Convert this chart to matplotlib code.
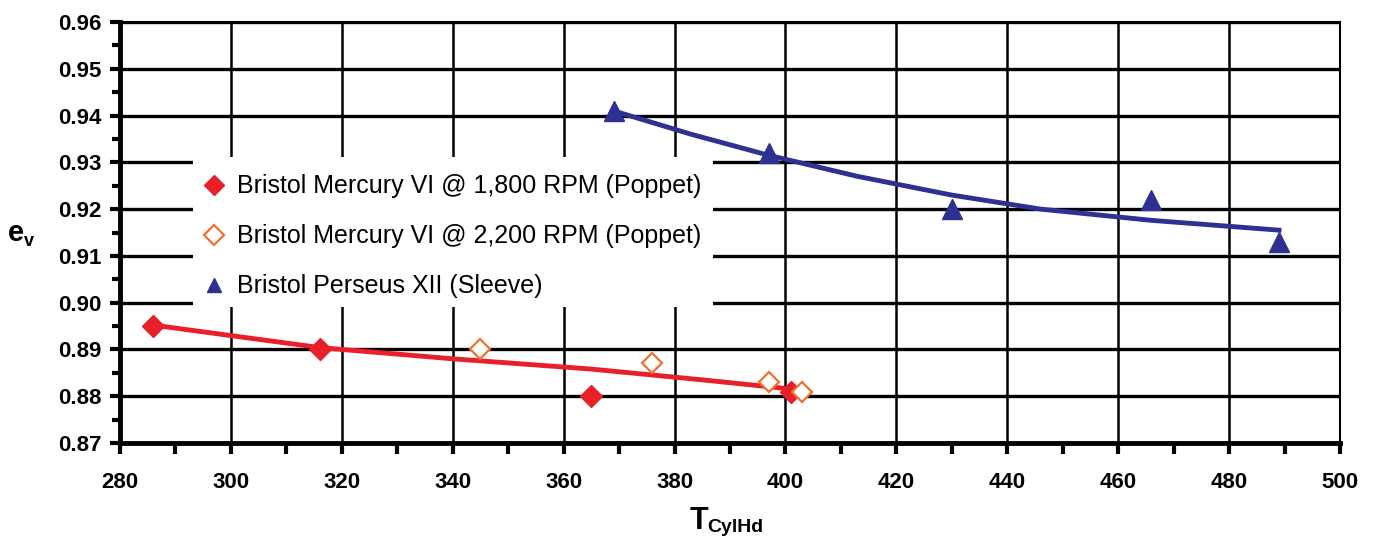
import matplotlib
matplotlib.use("Agg")
import matplotlib.pyplot as plt
from matplotlib.patches import Rectangle
from matplotlib.ticker import MultipleLocator, FormatStrFormatter

# Data
merc1800_x = [286, 316, 365, 401]
merc1800_y = [0.895, 0.890, 0.880, 0.881]
merc2200_x = [345, 376, 397, 403]
merc2200_y = [0.890, 0.887, 0.883, 0.881]
pers_x = [369, 397, 430, 466, 489]
pers_y = [0.941, 0.932, 0.920, 0.922, 0.913]

# Trend lines
merc_trend_x = [286, 316, 340, 365, 385, 403]
merc_trend_y = [0.8952, 0.8904, 0.8880, 0.8858, 0.8835, 0.8813]
pers_trend_x = [369, 383, 397, 413, 430, 446, 466, 489]
pers_trend_y = [0.9410, 0.9360, 0.9315, 0.9270, 0.9230, 0.9200, 0.9176, 0.9155]

labels = ["Bristol Mercury VI @ 1,800 RPM (Poppet)",
          "Bristol Mercury VI @ 2,200 RPM (Poppet)",
          "Bristol Perseus XII (Sleeve)"]

red = "#E8202A"
orange = "#F07030"
blue = "#2E3192"

plt.rcParams['font.family'] = ['Liberation Sans', 'DejaVu Sans']

fig = plt.figure(figsize=(13.73, 5.38), dpi=100)
ax = fig.add_axes([120/1373, 95/538, 1220/1373, 421/538])

ax.set_xlim(280, 500)
ax.set_ylim(0.87, 0.96)

ax.xaxis.set_major_locator(MultipleLocator(20))
ax.xaxis.set_minor_locator(MultipleLocator(10))
ax.yaxis.set_major_locator(MultipleLocator(0.01))
ax.yaxis.set_minor_locator(MultipleLocator(0.005))

ax.set_axisbelow(True)
ax.grid(True, which='major', axis='y', color='black', linewidth=2.4)
ax.grid(True, which='major', axis='x', color='black', linewidth=1.8)

for s in ['top', 'right']:
    ax.spines[s].set_linewidth(1.5)
for s in ['left', 'bottom']:
    ax.spines[s].set_linewidth(3.5)

ax.tick_params(axis='both', which='both', direction='out', width=3, colors='black')
ax.tick_params(axis='y', which='major', length=7, labelsize=16, pad=6)
ax.tick_params(axis='y', which='minor', length=6)
ax.tick_params(axis='x', which='both', length=8)
ax.tick_params(axis='x', which='major', labelsize=16, pad=13)
ax.yaxis.set_major_formatter(FormatStrFormatter('%.2f'))
for lab in ax.get_xticklabels() + ax.get_yticklabels():
    lab.set_fontweight('bold')

# Legend background box covering grid
ax.add_patch(Rectangle((0.06, 0.324), 0.426, 0.355, transform=ax.transAxes,
                       facecolor='white', edgecolor='none', zorder=1))

ax.plot(merc_trend_x, merc_trend_y, color=red, linewidth=3.5, zorder=2)
ax.plot(pers_trend_x, pers_trend_y, color=blue, linewidth=3.5, zorder=2)

h1, = ax.plot(merc1800_x, merc1800_y, linestyle='none', marker='D', markersize=11,
              color=red, zorder=3)
h2, = ax.plot(merc2200_x, merc2200_y, linestyle='none', marker='D', markersize=10,
              markerfacecolor='white', markeredgecolor=orange, markeredgewidth=1.6, zorder=3)
h3, = ax.plot(pers_x, pers_y, linestyle='none', marker='^', markersize=14,
              color=blue, zorder=3)

leg = ax.legend([h1, h2, h3], labels, loc='upper left',
                bbox_to_anchor=(0.068, 0.638), frameon=False, fontsize=18,
                handlelength=0.85, handletextpad=0.5, labelspacing=1.04,
                borderaxespad=0, borderpad=0)
for lh in leg.legend_handles:
    lh.set_markersize(10)

fig.text(16/1373, 1 - 233/538, "e", fontsize=21, fontweight='bold',
         ha='center', va='center')
fig.text(29/1373, 1 - 241/538, "v", fontsize=13, fontweight='bold',
         ha='center', va='center')
fig.text(699/1373, 1 - 521/538, "T", fontsize=22, fontweight='bold',
         ha='center', va='center')
fig.text(707/1373, 1 - 527/538, "CylHd", fontsize=14, fontweight='bold',
         ha='left', va='center')

fig.savefig("out.png", dpi=100)
